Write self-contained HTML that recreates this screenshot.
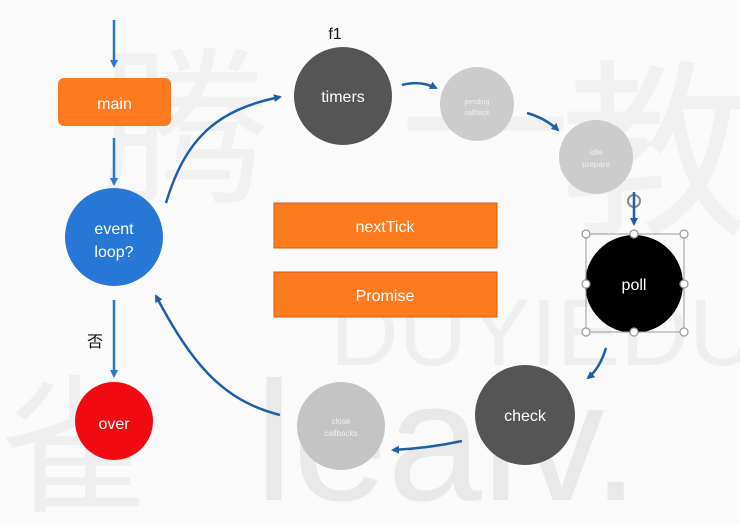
<!DOCTYPE html>
<html><head><meta charset="utf-8"><style>
html,body{margin:0;padding:0;background:#fafafa;}
svg{display:block;}
text{font-family:"Liberation Sans","Noto Sans CJK SC",sans-serif;}
</style></head><body>
<svg width="740" height="525" viewBox="0 0 740 525" xmlns="http://www.w3.org/2000/svg">
<defs>
<marker id="a" markerWidth="8" markerHeight="8" refX="6" refY="4" orient="auto" markerUnits="userSpaceOnUse">
<path d="M0,0 L8,4 L0,8 Z" fill="#1f5fa8"/></marker>
<marker id="b" markerWidth="8" markerHeight="8" refX="6" refY="4" orient="auto" markerUnits="userSpaceOnUse">
<path d="M0,0 L8,4 L0,8 Z" fill="#2a78c8"/></marker>
</defs>
<rect width="740" height="525" fill="#fafafa"/>
<!-- watermark -->
<text x="255" y="500" font-size="170" fill="#e9e9e9">leaiv.</text>
<text x="330" y="365" font-size="95" fill="#efefef">DUYIEDUCA</text>
<text x="0" y="500" font-size="150" fill="#efefef">雀</text>
<text x="100" y="190" font-size="170" fill="#f1f1f1">腾</text>
<text x="400" y="190" font-size="170" fill="#f1f1f1">一</text>
<text x="560" y="220" font-size="190" fill="#f1f1f1">教</text>
<!-- left vertical arrows -->
<line x1="114" y1="20" x2="114" y2="66" stroke="#2a78c8" stroke-width="2.5" marker-end="url(#b)"/>
<rect x="58" y="78" width="113" height="48" rx="6" fill="#fd7a1f"/>
<text x="114.5" y="109" text-anchor="middle" fill="#fff" font-size="16">main</text>
<line x1="114" y1="138" x2="114" y2="184" stroke="#2a78c8" stroke-width="2.5" marker-end="url(#b)"/>
<circle cx="114" cy="237" r="49" fill="#2677d6"/>
<text x="114" y="234" text-anchor="middle" fill="#fff" font-size="16">event</text>
<text x="114" y="257" text-anchor="middle" fill="#fff" font-size="16">loop?</text>
<line x1="114" y1="300" x2="114" y2="376" stroke="#2a78c8" stroke-width="2.5" marker-end="url(#b)"/>
<text x="95" y="347" text-anchor="middle" fill="#111" font-size="16">否</text>
<circle cx="114" cy="421" r="39" fill="#f20a12"/>
<text x="114" y="429" text-anchor="middle" fill="#fff" font-size="16">over</text>
<!-- phase circles -->
<text x="335" y="39" text-anchor="middle" fill="#111" font-size="16">f1</text>
<circle cx="343" cy="96" r="49" fill="#555"/>
<text x="343" y="102" text-anchor="middle" fill="#fff" font-size="16">timers</text>
<circle cx="477" cy="104" r="37" fill="#cccccc"/>
<text x="477" y="104" text-anchor="middle" fill="#eee" font-size="7">pending</text>
<text x="477" y="115" text-anchor="middle" fill="#eee" font-size="7">callback</text>
<circle cx="596" cy="157" r="37" fill="#cccccc"/>
<text x="596" y="155" text-anchor="middle" fill="#eee" font-size="8">idle</text>
<text x="596" y="167" text-anchor="middle" fill="#eee" font-size="8">prepare</text>
<circle cx="634" cy="284" r="49" fill="#000"/>
<text x="634" y="290" text-anchor="middle" fill="#fff" font-size="16">poll</text>
<rect x="586" y="234" width="98" height="98" fill="none" stroke="#999" stroke-width="1"/>
<g fill="#fff" stroke="#999" stroke-width="1.2">
<circle cx="586" cy="234" r="4"/><circle cx="634" cy="234" r="4"/><circle cx="684" cy="234" r="4"/>
<circle cx="586" cy="284" r="4"/><circle cx="684" cy="284" r="4"/>
<circle cx="586" cy="332" r="4"/><circle cx="634" cy="332" r="4"/><circle cx="684" cy="332" r="4"/>
</g>
<circle cx="634" cy="201" r="6" fill="none" stroke="#888" stroke-width="2"/>
<circle cx="525" cy="415" r="50" fill="#555"/>
<text x="525" y="421" text-anchor="middle" fill="#fff" font-size="16">check</text>
<circle cx="341" cy="426" r="44" fill="#c4c4c4"/>
<text x="341" y="424" text-anchor="middle" fill="#eee" font-size="8">close</text>
<text x="341" y="436" text-anchor="middle" fill="#eee" font-size="8">callbacks</text>
<!-- orange boxes -->
<rect x="274" y="203" width="223" height="45" fill="#fd7a1f" stroke="#d55a10" stroke-width="1"/>
<text x="385" y="232" text-anchor="middle" fill="#fff" font-size="16">nextTick</text>
<rect x="274" y="272" width="223" height="45" fill="#fd7a1f" stroke="#d55a10" stroke-width="1"/>
<text x="385" y="301" text-anchor="middle" fill="#fff" font-size="16">Promise</text>
<!-- cycle arrows -->
<g fill="none" stroke="#1f5fa8" stroke-width="2.5">
<path d="M166,203 C185,140 215,110 280,97" marker-end="url(#a)"/>
<path d="M402,85 Q420,80 436,88" marker-end="url(#a)"/>
<path d="M527,113 Q545,118 558,130" marker-end="url(#a)"/>
<path d="M634,192 L634,224" marker-end="url(#a)"/>
<path d="M606,348 Q600,368 588,378" marker-end="url(#a)"/>
<path d="M462,441 Q430,448 393,450" marker-end="url(#a)"/>
<path d="M280,415 C220,400 190,360 156,296" marker-end="url(#a)"/>
</g>
</svg>
</body></html>
